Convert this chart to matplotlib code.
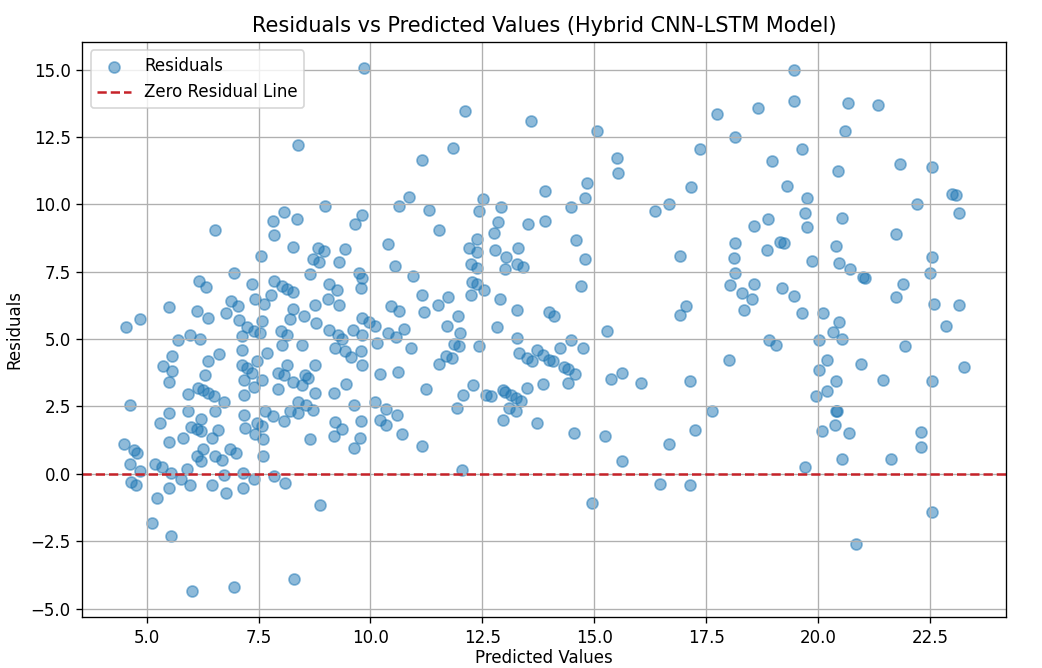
import matplotlib
matplotlib.use("Agg")
import matplotlib.pyplot as plt

# predicted values / residuals, grouped by x band

# band 4.5 - 7.2
pred_a = [6.53, 6.94, 6.16, 6.33, 5.50, 6.12, 6.38, 4.86, 4.54, 6.89,
          6.78, 7.05, 7.07, 7.24, 5.71, 5.96, 6.19, 7.14, 6.61, 5.56,
          5.36, 6.36, 5.57, 5.49, 6.31, 6.14, 6.25, 6.36, 6.50, 5.93,
          6.73, 4.62, 5.50, 5.29, 5.93, 6.52, 6.21, 6.00, 6.12, 6.21,
          6.59, 6.46, 5.82, 5.49, 4.50, 4.71, 4.79, 6.25, 6.12, 6.21,
          6.52, 6.69, 6.86, 7.00, 4.62, 4.86, 5.18, 5.34, 5.54, 5.89,
          5.77, 5.96, 4.66, 4.76, 5.49, 6.46, 6.73, 6.78, 7.16, 7.16,
          5.24, 5.11, 5.54, 6.01, 6.94, 7.14, 7.14, 7.17, 7.18, 7.18, 7.20]
resid_a = [9.05, 7.46, 7.15, 6.94, 6.18, 6.06, 5.78, 5.75, 5.46, 6.40,
           5.97, 6.22, 5.72, 5.46, 4.95, 5.14, 5.01, 5.10, 4.45, 4.38,
           4.02, 4.19, 3.82, 3.42, 3.67, 3.20, 3.10, 3.00, 2.89, 2.95,
           2.67, 2.57, 2.26, 1.89, 2.34, 2.34, 2.05, 1.74, 1.65, 1.59,
           1.64, 1.33, 1.33, 1.18, 1.09, 0.87, 0.77, 0.91, 0.66, 0.46,
           0.68, 0.50, 0.93, 0.78, 0.35, 0.12, 0.37, 0.25, 0.04, 0.19,
           -0.19, -0.40, -0.31, -0.40, -0.52, -0.40, -0.06, -0.72, 0.04, -0.52,
           -0.90, -1.83, -2.30, -4.35, -4.19, 4.60, 4.04, 3.48, 2.92, 2.18, 1.70]

# band 7.2 - 9.9
pred_b = [9.85, 8.38, 8.98, 8.07, 7.82, 8.35, 7.85, 9.82, 9.65, 8.28,
          8.82, 8.96, 9.44, 7.55, 8.71, 8.85, 9.30, 8.64, 9.75, 9.82,
          9.78, 7.35, 7.85, 8.03, 8.14, 8.27, 9.07, 9.25, 9.05, 7.43,
          7.63, 7.78, 8.28, 8.75, 9.30, 8.21, 8.51, 8.78, 7.57, 7.39,
          7.53, 8.00, 8.14, 9.07, 9.28, 9.37, 9.60, 9.82,
          8.03, 8.46, 9.21, 9.43, 9.57, 9.78, 9.82, 7.46, 7.68, 7.25,
          7.35, 7.57, 7.39, 7.93, 8.07, 8.14, 7.93, 8.28, 8.46, 8.53,
          8.60, 8.75, 8.75, 9.18, 9.46, 9.63, 9.78, 9.77, 9.64, 8.39,
          8.21, 8.38, 8.57, 8.71, 7.64, 7.82, 8.07, 7.46, 7.57, 7.43,
          7.60, 7.60, 9.20, 9.37, 9.18, 8.64, 7.85, 8.08, 7.39, 8.87, 8.30]
resid_b = [15.05, 12.21, 9.93, 9.73, 9.39, 9.45, 8.86, 9.60, 9.27, 8.42,
           8.37, 8.27, 8.33, 8.08, 7.96, 7.87, 7.87, 7.40, 7.46, 7.28,
           6.90, 7.05, 7.15, 6.97, 6.87, 6.75, 7.03, 6.82, 6.50, 6.47,
           6.31, 6.62, 6.13, 6.26, 6.26, 5.75, 5.87, 5.60, 5.68, 5.31,
           5.22, 5.31, 5.16, 5.35, 5.16, 5.00, 5.35, 5.16,
           4.79, 4.79, 4.66, 4.54, 4.35, 4.56, 4.04, 4.19, 4.48, 3.92,
           3.73, 3.48, 3.23, 3.76, 3.67, 4.04, 3.15, 3.42, 3.30, 3.67,
           3.54, 4.04, 2.99, 3.01, 3.32, 2.55, 1.95, 1.33, 0.96, 2.67,
           2.34, 2.24, 2.55, 2.36, 2.34, 2.14, 1.95, 1.87, 1.77, 1.49,
           1.31, 0.68, 1.93, 1.68, 1.41, 1.31, -0.09, -0.35, -0.19, -1.14, -3.92]

# band 9.8 - 12.6
pred_c = [12.12, 11.84, 11.14, 10.85, 10.64, 11.30, 12.52, 12.42, 11.52, 10.40,
          12.37, 12.21, 12.39, 10.55, 10.96, 12.24, 12.37, 12.26, 12.39, 12.53,
          12.24, 11.14, 11.73, 11.50, 11.20, 10.46, 10.64, 11.95, 11.71, 11.99,
          10.75, 10.39, 10.57, 9.82, 9.96, 10.09,
          10.14, 10.90, 11.87, 11.97, 12.42, 11.69, 11.83, 11.53, 10.21, 10.62,
          11.25, 12.28, 12.07, 12.57, 10.10, 10.35, 10.59, 10.21, 10.35, 11.94,
          10.71, 11.14, 12.05]
resid_c = [13.47, 12.08, 11.65, 10.26, 9.95, 9.79, 10.20, 9.74, 9.05, 8.52,
           8.73, 8.37, 8.23, 7.71, 7.34, 7.77, 7.62, 7.13, 7.03, 6.84,
           6.65, 6.65, 6.55, 6.28, 5.99, 6.22, 6.06, 5.87, 5.50, 5.22,
           5.37, 5.22, 5.06, 5.78, 5.63, 5.47,
           4.85, 4.66, 4.81, 4.73, 4.76, 4.39, 4.29, 4.07, 3.69, 3.77,
           3.13, 3.30, 2.92, 2.92, 2.67, 2.40, 2.20, 1.99, 1.83, 2.45,
           1.46, 1.03, 0.16]

# band 12.5 - 15.6
pred_d = [13.59, 15.05, 15.51, 15.53, 13.89, 14.84, 14.79, 12.91, 14.47, 12.85,
          13.52, 13.91, 12.77, 12.78, 13.03, 13.30, 14.60, 13.28, 13.41, 13.00,
          14.79, 14.71, 12.90, 13.28, 13.98, 14.10, 12.82, 15.29, 13.28, 14.47,
          13.32, 13.49, 13.60, 13.71, 13.85, 13.99, 14.08, 14.23, 14.74, 14.32,
          14.41, 14.58, 14.41, 13.85, 13.49, 15.37, 15.62, 12.69, 12.96, 13.01,
          13.14, 13.24, 13.37, 13.10, 13.24, 12.96, 13.71, 14.55, 15.24, 15.62, 14.94]
resid_d = [13.10, 12.72, 11.72, 11.16, 10.51, 10.78, 10.22, 9.91, 9.91, 9.33,
           9.27, 9.39, 8.93, 8.30, 8.05, 8.37, 8.68, 7.77, 7.67, 7.59,
           7.99, 6.97, 6.47, 6.09, 6.00, 5.87, 5.45, 5.31, 5.04, 4.98,
           4.48, 4.29, 4.19, 4.60, 4.42, 4.23, 4.19, 4.66, 4.66, 3.98,
           3.88, 3.69, 3.36, 3.32, 3.17, 3.51, 3.73, 2.90, 3.11, 3.05,
           2.92, 2.82, 2.70, 2.45, 2.33, 2.01, 1.89, 1.52, 1.41, 0.46, -1.08]

# band 15.6 - 19.1
pred_e = [17.75, 18.66, 18.14, 17.37, 18.96, 17.16, 16.68, 16.36, 18.89, 18.57,
          18.14, 18.86, 18.12, 16.91, 18.14, 18.04, 18.29, 18.57, 18.52, 18.34,
          17.06, 16.91, 18.91, 19.06, 18.00, 16.05, 17.13, 17.64, 17.24, 16.68, 16.47, 17.13]
resid_e = [13.36, 13.57, 12.51, 12.04, 11.60, 10.65, 10.00, 9.77, 9.46, 9.20,
           8.58, 8.32, 8.01, 8.10, 7.46, 6.99, 6.72, 7.03, 6.47, 6.07,
           6.24, 5.88, 4.95, 4.79, 4.21, 3.37, 3.46, 2.35, 1.63, 1.09, -0.38, -0.43]

# band 19.1 - 23.3
pred_f = [19.46, 19.46, 20.66, 21.33, 20.61, 19.64, 20.45, 21.82, 19.31, 19.76,
          19.70, 19.76, 20.53, 22.20, 21.73, 19.16, 19.24, 20.41, 19.86, 20.47,
          20.72, 21.01, 21.04, 19.20, 19.46, 19.63, 20.11, 21.90, 21.73, 20.47,
          20.34, 20.54, 20.02, 20.19, 20.02, 20.95, 20.41, 20.19, 19.95, 21.45,
          21.95, 20.43, 20.40, 20.38, 20.08, 20.70, 20.54, 21.63, 19.70, 22.30, 22.30, 20.84,
          22.55, 23.00, 23.08, 23.15, 22.55, 22.50, 22.60, 23.15, 22.85, 23.25, 22.55, 22.55]
resid_f = [14.97, 13.84, 13.75, 13.70, 12.73, 12.05, 11.23, 11.49, 10.69, 10.24,
           9.67, 9.16, 9.48, 10.00, 8.89, 8.62, 8.55, 8.45, 7.91, 7.82,
           7.60, 7.29, 7.26, 6.89, 6.61, 5.97, 5.97, 7.03, 6.55, 5.63,
           5.26, 5.02, 4.96, 4.21, 3.87, 4.07, 3.46, 3.09, 2.88, 3.50,
           4.75, 2.35, 2.33, 1.80, 1.60, 1.52, 0.54, 0.54, 0.27, 1.56, 0.98, -2.62,
           11.38, 10.37, 10.33, 9.67, 8.05, 7.45, 6.30, 6.25, 5.50, 3.98, 3.45, -1.42]

y_pred = pred_a + pred_b + pred_c + pred_d + pred_e + pred_f
residuals = resid_a + resid_b + resid_c + resid_d + resid_e + resid_f

fig = plt.figure(figsize=(1042 / 120, 668 / 120), dpi=120)
plt.scatter(y_pred, residuals, s=44, alpha=0.5, label="Residuals")
plt.axhline(y=0, color="#c62229", linestyle="--", label="Zero Residual Line")
plt.title("Residuals vs Predicted Values (Hybrid CNN-LSTM Model)", fontsize=12.5)
plt.xlabel("Predicted Values", labelpad=1)
plt.ylabel("Residuals")
plt.legend(loc="upper left")
plt.grid(True)
plt.subplots_adjust(left=0.079, right=0.965, top=0.937, bottom=0.076)
plt.savefig("out.png", dpi=120)
